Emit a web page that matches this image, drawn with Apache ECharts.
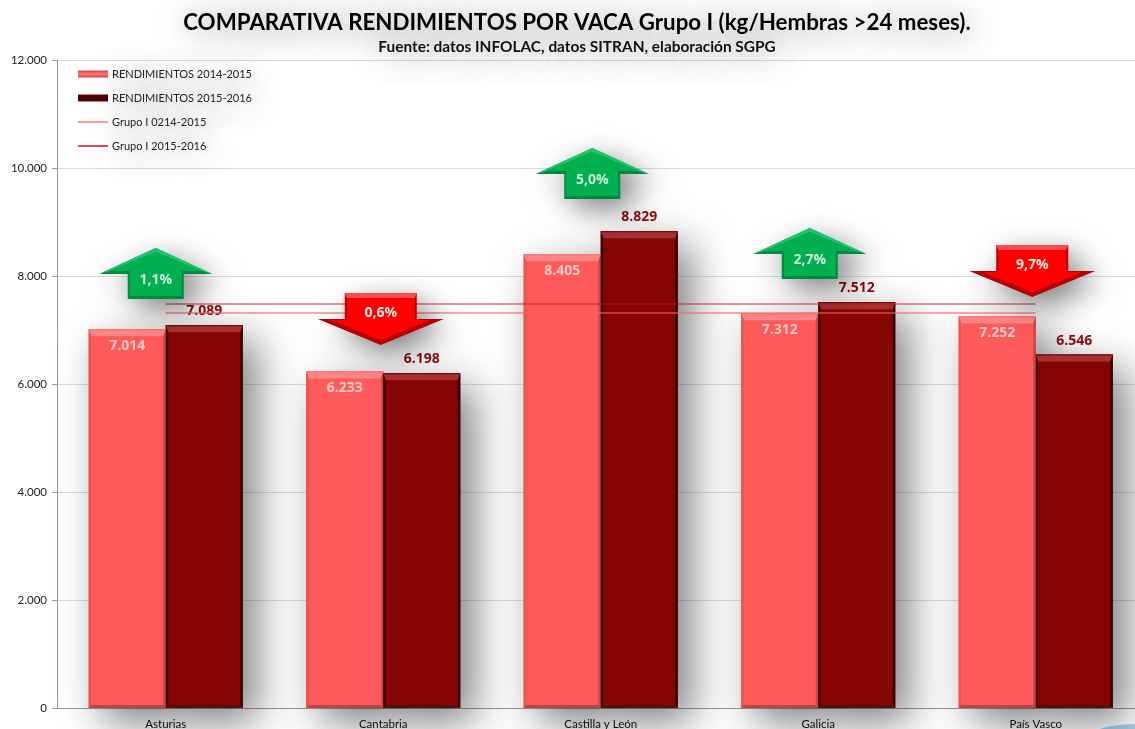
<!DOCTYPE html>
<html><head><meta charset="utf-8">
<style>html,body{margin:0;padding:0;background:#fff}#c{width:1135px;height:729px}</style>
<script src="https://cdn.jsdelivr.net/npm/echarts@6/dist/echarts.min.js"></script>
</head><body><div id="c"></div>
<script>
const categories = ['Asturias', 'Cantabria', 'Castilla y León', 'Galicia', 'País Vasco'];
const rend1415 = [7014, 6233, 8405, 7312, 7252];
const rend1516 = [7089, 6198, 8829, 7512, 6546];
const grupo1415 = [7315, 7315, 7315, 7315, 7315];
const grupo1516 = [7481, 7481, 7481, 7481, 7481];
const changes = [1.1, -0.6, 5.0, 2.7, -9.7];
const changeLabels = ['1,1%', '0,6%', '5,0%', '2,7%', '9,7%'];
const arrowLevels = [8519, 7685, 10370, 8889, 8574];
const arrowShift = [-10, -2.5, -8.5, -8.5, -3.5];

const FONT = 'Lato, "Open Sans", sans-serif';
const thousands = v => String(v).replace(/\B(?=(\d{3})+$)/g, '.');
const BAR_W = 77;
const hGrad = (a, b, c) => ({type:'linear',x:0,y:0,x2:0,y2:1,colorStops:[{offset:0,color:a},{offset:.5,color:b},{offset:1,color:c}]});

function rectShadow(x, y0, y1) {
  return {type:'rect', shape:{x:x, y:y0, width:BAR_W, height:y1-y0},
    style:{fill:'#888', shadowBlur:42, shadowOffsetX:14, shadowOffsetY:14, shadowColor:'rgba(0,0,0,0.5)'}};
}
function bevel(x, top, bot, tones) {
  const w = BAR_W, l = x, r = x + w, t = top, b = bot;
  const T = 7, S = 2.5, B = 3;
  const poly = (pts, fill) => ({type:'polygon', shape:{points:pts}, style:{fill:fill}});
  return [
    poly([[l,t],[r,t],[r-S,t+T],[l+S,t+T]], tones.top),
    poly([[l,t],[l+S,t+T],[l+S,b-B],[l,b]], tones.left),
    poly([[r,t],[r-S,t+T],[r-S,b-B],[r,b]], tones.right),
    poly([[l,b],[l+S,b-B],[r-S,b-B],[r,b]], tones.bottom),
    {type:'rect', shape:{x:l, y:t, width:w, height:1}, style:{fill:tones.edge}}
  ];
}
const lightTones = {top:'#ff8585', left:'#ee5252', right:'#c84848', bottom:'#b94545', edge:'#ff7070'};
const darkTones = {top:'#a83030', left:'#3c0000', right:'#2e0000', bottom:'#541010', edge:'#6a0505'};

function barDecor(kind) {
  return function (params, api) {
    const i = api.value(0);
    const base = api.coord([i, 0]);
    const a = api.coord([i, api.value(1)]);
    const b = api.coord([i, api.value(2)]);
    const xa = base[0] - BAR_W, xb = base[0];
    if (kind === 'shadow') {
      return {type:'group', children:[rectShadow(xa, a[1], base[1]), rectShadow(xb, b[1], base[1])]};
    }
    return {type:'group', children:bevel(xa, a[1], base[1], lightTones).concat(bevel(xb, b[1], base[1], darkTones))};
  };
}

function arrowItem(params, api) {
  const i = api.value(0);
  const up = api.value(2) > 0;
  const p = api.coord([i, api.value(1)]);
  const cx = p[0] + arrowShift[i], t = p[1];
  const hw = up ? 56.5 : 63, sw = up ? 28 : 36, H = up ? 51 : 52, hh = 26;
  const poly = (pts, fill, extra) => ({type:'polygon', shape:{points:pts}, style:Object.assign({fill:fill}, extra || {})});
  const shadow = {shadowBlur:30, shadowOffsetX:10, shadowOffsetY:10, shadowColor:'rgba(0,0,0,0.5)'};
  const font = 'bold 14px "Open Sans", sans-serif';
  let kids;
  if (up) {
    const hb = t + hh, b = t + H;
    const outer = [[cx,t],[cx+hw,hb],[cx+sw,hb],[cx+sw,b],[cx-sw,b],[cx-sw,hb],[cx-hw,hb]];
    const inner = [[cx,t+4],[cx+hw-11,hb-3],[cx+sw-2,hb-3],[cx+sw-2,b-3],[cx-sw+2,b-3],[cx-sw+2,hb-3],[cx-hw+11,hb-3]];
    kids = [
      poly(outer, '#008a40', shadow),
      poly([[cx,t],[cx+hw,hb],[cx+hw-11,hb-3],[cx,t+4],[cx-hw+11,hb-3],[cx-hw,hb]], '#1cc46c'),
      poly(inner, '#00b050'),
      {type:'text', x:cx, y:t+32, style:{text:changeLabels[i], fill:'#cdeedb', font:font, textAlign:'center', textVerticalAlign:'middle'}}
    ];
  } else {
    const hb = t + H - hh, b = t + H;
    const outer = [[cx-sw,t],[cx+sw,t],[cx+sw,hb],[cx+hw,hb],[cx,b],[cx-hw,hb],[cx-sw,hb]];
    const inner = [[cx-sw+2,t+5],[cx+sw-2,t+5],[cx+sw-2,hb+1],[cx+hw-14,hb+1],[cx,b-5],[cx-hw+14,hb+1],[cx-sw+2,hb+1]];
    kids = [
      poly(outer, '#b80000', shadow),
      poly([[cx-sw,t],[cx+sw,t],[cx+sw-2,t+5],[cx-sw+2,t+5]], '#ff4a4a'),
      poly(inner, '#ff0000'),
      {type:'text', x:cx, y:t+20, style:{text:changeLabels[i], fill:'#ffe9e9', font:font, textAlign:'center', textVerticalAlign:'middle'}}
    ];
  }
  return {type:'group', children:kids};
}

const barRows = categories.map((c, i) => [i, rend1415[i], rend1516[i]]);
const arrowRows = categories.map((c, i) => [i, arrowLevels[i], changes[i]]);
const textShadow = {textShadowBlur:30, textShadowColor:'rgba(0,0,0,0.5)', textShadowOffsetX:3, textShadowOffsetY:3};
const lineIcon = 'path://M0,0H30V1.6H0Z';

const chart = echarts.init(document.getElementById('c'), null, {renderer:'canvas'});
chart.setOption({
  animation:false,
  backgroundColor:'#fff',
  title:[
    {text:'COMPARATIVA RENDIMIENTOS POR VACA Grupo I (kg/Hembras >24 meses).', left:572, top:7, textAlign:'center',
     textStyle:Object.assign({fontFamily:FONT, fontSize:22.3, fontWeight:'bold', color:'#000'}, textShadow)},
    {text:'Fuente: datos INFOLAC, datos SITRAN, elaboración SGPG', left:572, top:35, textAlign:'center',
     textStyle:Object.assign({fontFamily:FONT, fontSize:15.4, fontWeight:'bold', color:'#111'}, textShadow)}
  ],
  legend:{
    orient:'vertical', left:73, top:63, itemWidth:30, itemHeight:7, itemGap:12,
    textStyle:Object.assign({fontFamily:FONT, fontSize:11, color:'#222', padding:[0,0,0,-1], height:12, lineHeight:12}, textShadow),
    data:[
      {name:'RENDIMIENTOS 2014-2015', icon:'rect', itemStyle:{color:hGrad('#d93a3a','#ff7d7d','#d93a3a')}},
      {name:'RENDIMIENTOS 2015-2016', icon:'rect', itemStyle:{color:hGrad('#6a0000','#3a0000','#6a0000')}},
      {name:'Grupo I 0214-2015', icon:lineIcon, itemStyle:{color:'#ff8080'}},
      {name:'Grupo I 2015-2016', icon:lineIcon, itemStyle:{color:'#d42020'}}
    ]
  },
  grid:{left:57, top:60, width:1087.5, height:648, outerBoundsMode:'none'},
  xAxis:{type:'category', data:categories, boundaryGap:true,
    axisLine:{lineStyle:{color:'#9a9a9a'}}, axisTick:{length:5, alignWithLabel:false, lineStyle:{color:'#9a9a9a'}},
    axisLabel:{fontFamily:FONT, fontSize:11.5, color:'#111', margin:10, interval:0}},
  yAxis:{type:'value', min:0, max:12000, interval:2000,
    axisLine:{show:true, lineStyle:{color:'#9a9a9a'}}, axisTick:{show:true, length:5, lineStyle:{color:'#9a9a9a'}},
    splitLine:{lineStyle:{color:'#dcdcdc'}},
    axisLabel:{fontFamily:FONT, fontSize:11.5, color:'#222', margin:10, formatter:thousands}},
  series:[
    {type:'custom', name:'sombra', z:1, silent:true, data:barRows, renderItem:barDecor('shadow'), clip:false, encode:{x:0,y:1}},
    {type:'bar', name:'RENDIMIENTOS 2014-2015', data:rend1415, z:2, barWidth:BAR_W, barGap:0,
     itemStyle:{color:'#ff5a5a'},
     label:{show:true, position:'insideTop', distance:10, formatter:p=>thousands(p.value), fontFamily:'"Open Sans", sans-serif', fontSize:14, fontWeight:'bold', color:'#f5caca'}},
    {type:'bar', name:'RENDIMIENTOS 2015-2016', data:rend1516, z:2, barWidth:BAR_W, barGap:0,
     itemStyle:{color:'#870404'},
     label:{show:true, position:'top', distance:7, formatter:p=>thousands(p.value), fontFamily:'"Open Sans", sans-serif', fontSize:14, fontWeight:'bold', color:'#8b0a0a'}},
    {type:'custom', name:'bisel', z:3, silent:true, data:barRows, renderItem:barDecor('bevel'), clip:false, encode:{x:0,y:1}},
    {type:'line', name:'Grupo I 0214-2015', data:grupo1415, z:4, symbol:'none', silent:true,
     itemStyle:{color:'#ff8080'}, lineStyle:{color:'rgba(245,100,100,0.75)', width:1.5}},
    {type:'line', name:'Grupo I 2015-2016', data:grupo1516, z:4, symbol:'none', silent:true,
     itemStyle:{color:'#d42020'}, lineStyle:{color:'rgba(200,20,20,0.6)', width:1.5}},
    {type:'custom', name:'variación', z:5, silent:true, data:arrowRows, renderItem:arrowItem, clip:false, encode:{x:0,y:1}}
  ],
  graphic:[{type:'ellipse', left:1088, top:724, shape:{cx:0, cy:0, rx:50, ry:14}, style:{fill:'#a6cfe6'}, silent:true, z:0}]
});
</script></body></html>
